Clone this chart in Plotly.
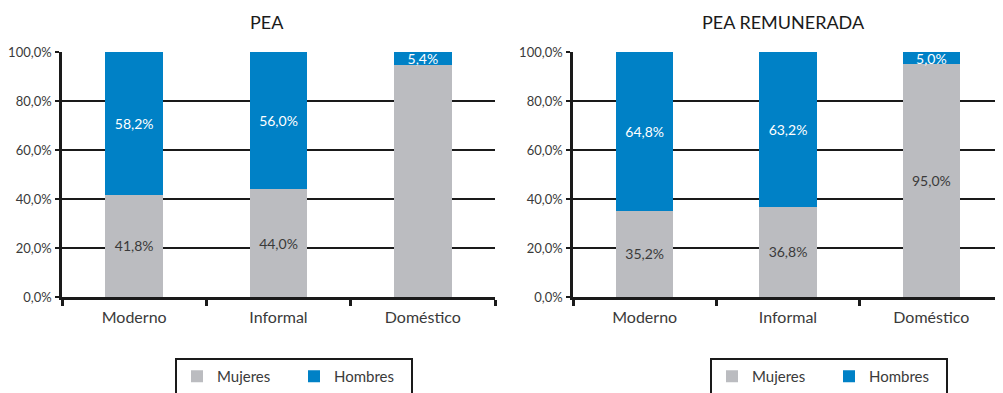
import plotly.graph_objects as go

categories = ["Moderno", "Informal", "Doméstico"]
pea_mujeres = [41.8, 44.0, 94.6]
pea_hombres = [58.2, 56.0, 5.4]
pea_mujeres_labels = ["41,8%", "44,0%", ""]
pea_hombres_labels = ["58,2%", "56,0%", "5,4%"]
rem_mujeres = [35.2, 36.8, 95.0]
rem_hombres = [64.8, 63.2, 5.0]
rem_mujeres_labels = ["35,2%", "36,8%", "95,0%"]
rem_hombres_labels = ["64,8%", "63,2%", "5,0%"]
y_ticks = [0, 0.2, 0.4, 0.6, 0.8, 1.0]

GRAY = "#BBBCC0"
BLUE = "#0081C6"
FONT = "Lato"
OFF = 8  # page body margin
W, H = 1003 - OFF, 393 - OFF


def px(x):
    return (x - OFF) / W


def py(y):
    return (H - (y - OFF)) / H


fig = go.Figure()


def add_pair(muj, hom, mlab, hlab, xa, ya, leg):
    fig.add_trace(go.Bar(
        x=categories, y=[v / 100 for v in muj], name="Mujeres", marker_color=GRAY,
        marker_line_width=0, text=mlab, textposition="inside", insidetextanchor="middle",
        constraintext="none", textangle=0,
        textfont=dict(color="#3a3a3a", size=14, family=FONT),
        xaxis=xa, yaxis=ya, legend=leg, hoverinfo="skip"))
    fig.add_trace(go.Bar(
        x=categories, y=[v / 100 for v in hom], name="Hombres", marker_color=BLUE,
        marker_line_width=0, text=hlab, textposition="inside", insidetextanchor="middle",
        constraintext="none", textangle=0,
        textfont=dict(color="white", size=14, family=FONT),
        xaxis=xa, yaxis=ya, legend=leg, hoverinfo="skip"))


add_pair(pea_mujeres, pea_hombres, pea_mujeres_labels, pea_hombres_labels, "x", "y", "legend")
add_pair(rem_mujeres, rem_hombres, rem_mujeres_labels, rem_hombres_labels, "x2", "y2", "legend2")

ydom = [py(297), py(52)]
xdom1 = [px(62), px(495)]
xdom2 = [px(573), 1.0]

yax = dict(range=[0, 1.0], tickvals=y_ticks, tickformat=".1%", showgrid=True,
           gridcolor="#1a1a1a", gridwidth=1.6, showline=True, linecolor="#1a1a1a",
           linewidth=2.5, ticks="outside", ticklen=4, tickcolor="#1a1a1a", tickwidth=1.5,
           tickfont=dict(family=FONT, size=13, color="#3a3a3a"), zeroline=False,
           ticklabelstandoff=1, domain=ydom, fixedrange=True)
xax = dict(showline=True, linecolor="#1a1a1a", linewidth=3, ticks="outside",
           tickson="boundaries", ticklen=6, tickwidth=2.5, tickcolor="#1a1a1a",
           tickfont=dict(family=FONT, size=16, color="#3a3a3a"), showgrid=False,
           ticklabelstandoff=4, fixedrange=True)

legstyle = dict(orientation="h", bordercolor="#1a1a1a", borderwidth=2, bgcolor="white",
                font=dict(family=FONT, size=15, color="#3a3a3a"), yanchor="top",
                xanchor="left", entrywidth=72, traceorder="normal", itemclick=False)

title_font = dict(family=FONT, size=18, color="#1a1a1a")

fig.update_layout(
    width=W, height=H, barmode="stack", bargap=0.6, separators=",.",
    plot_bgcolor="white", paper_bgcolor="white",
    margin=dict(l=0, r=0, t=0, b=0, autoexpand=False),
    xaxis=dict(domain=xdom1, anchor="y", **xax),
    yaxis=dict(anchor="x", **yax),
    xaxis2=dict(domain=xdom2, anchor="y2", **xax),
    yaxis2=dict(anchor="x2", **yax),
    legend=dict(x=px(175), y=py(358), **legstyle),
    legend2=dict(x=px(710), y=py(358), **legstyle),
    annotations=[
        dict(text="PEA", x=px(267), y=py(22), xref="paper", yref="paper",
             xanchor="center", yanchor="middle", showarrow=False, font=title_font),
        dict(text="PEA REMUNERADA", x=px(783), y=py(22), xref="paper", yref="paper",
             xanchor="center", yanchor="middle", showarrow=False, font=title_font),
    ],
)

fig.write_html("out.html")
